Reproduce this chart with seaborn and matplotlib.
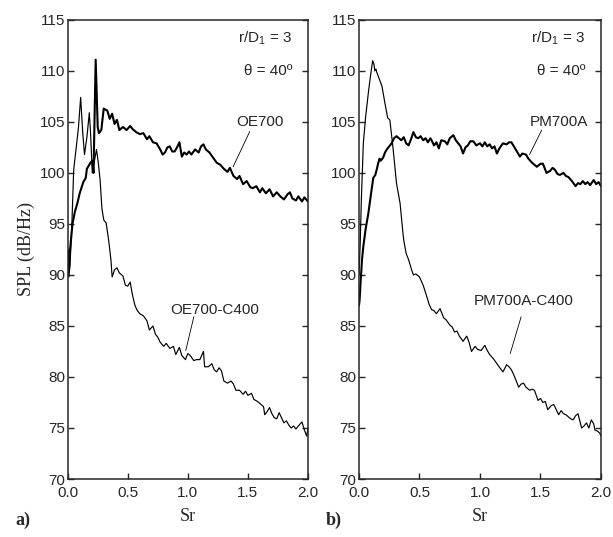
import numpy as np
import pandas as pd
import seaborn as sns
import matplotlib.pyplot as plt

# Panel a) OE700 and OE700-C400
sr_oe = [0.0, 0.01, 0.02, 0.04, 0.06, 0.08, 0.10, 0.13, 0.15, 0.16, 0.19, 0.205, 0.215, 0.233, 0.25,
         0.26, 0.28, 0.30, 0.33, 0.35, 0.37, 0.39, 0.41, 0.43, 0.46, 0.49, 0.52, 0.54, 0.57, 0.60,
         0.63, 0.66, 0.68, 0.71, 0.74, 0.77, 0.79, 0.81, 0.83, 0.85, 0.87, 0.89, 0.91, 0.93, 0.95,
         0.97, 0.99, 1.01, 1.03, 1.06, 1.09, 1.11, 1.13, 1.15, 1.18, 1.21, 1.24, 1.27, 1.30, 1.33,
         1.35, 1.38, 1.41, 1.43, 1.46, 1.49, 1.52, 1.54, 1.57, 1.60, 1.62, 1.65, 1.68, 1.71, 1.74,
         1.77, 1.80, 1.83, 1.85, 1.87, 1.90, 1.92, 1.95, 1.97, 2.0]
spl_oe = [92.5, 90.5, 92.5, 95.0, 96.2, 97.0, 98.0, 99.1, 99.5, 100.4, 101.0, 101.2, 100.0, 111.1, 104.5,
          103.9, 104.2, 106.3, 106.1, 105.3, 105.8, 104.8, 105.2, 104.2, 104.5, 104.2, 104.6, 104.3, 104.0, 103.8,
          103.9, 103.3, 103.6, 103.0, 102.9, 102.3, 101.8, 102.0, 102.5, 102.6, 102.1, 102.1, 102.5, 103.0, 101.6,
          102.0, 101.8, 102.1, 101.8, 102.3, 102.0, 102.6, 102.8, 102.3, 102.0, 101.5, 101.0, 100.8, 100.4, 100.1,
          100.5, 99.7, 99.4, 99.7, 98.9, 99.2, 98.6, 98.5, 98.7, 98.1, 98.5, 98.0, 98.4, 97.7, 98.1,
          97.7, 97.4, 97.9, 98.1, 97.5, 97.3, 97.7, 97.2, 97.6, 97.2]

sr_oe_c = [0.0, 0.01, 0.02, 0.035, 0.05, 0.075, 0.09, 0.108, 0.125, 0.14, 0.16, 0.18, 0.19, 0.205, 0.22,
           0.24, 0.255, 0.27, 0.285, 0.30, 0.32, 0.34, 0.36, 0.37, 0.39, 0.41, 0.43, 0.46, 0.48, 0.50,
           0.52, 0.54, 0.56, 0.58, 0.60, 0.63, 0.66, 0.68, 0.71, 0.73, 0.75, 0.77, 0.80, 0.82, 0.85,
           0.88, 0.90, 0.93, 0.95, 0.98, 1.00, 1.02, 1.05, 1.07, 1.10, 1.13, 1.14, 1.17, 1.20, 1.22,
           1.24, 1.26, 1.28, 1.30, 1.33, 1.36, 1.38, 1.40, 1.43, 1.46, 1.48, 1.50, 1.53, 1.55, 1.58,
           1.60, 1.63, 1.64, 1.66, 1.68, 1.70, 1.72, 1.74, 1.76, 1.78, 1.80, 1.82, 1.84, 1.86, 1.88,
           1.90, 1.92, 1.95, 1.97, 1.99, 2.0]
spl_oe_c = [90.5, 89.8, 91.0, 95.0, 100.3, 102.9, 104.5, 107.4, 104.0, 101.8, 103.5, 105.9, 104.0, 100.0, 101.0,
            102.3, 101.0, 99.3, 96.5, 95.4, 95.1, 93.5, 91.5, 89.8, 90.5, 90.7, 90.2, 89.9, 89.0, 88.9,
            89.3, 88.0, 87.0, 86.5, 86.2, 86.0, 85.5, 84.6, 85.0, 84.2, 83.9, 83.4, 83.0, 83.3, 82.8,
            83.0, 82.2, 82.9, 82.1, 81.7, 82.3, 82.1, 81.6, 81.7, 81.7, 82.5, 81.0, 81.0, 81.3, 80.7,
            80.5, 80.9, 80.6, 79.6, 79.4, 79.6, 79.3, 78.7, 78.7, 78.3, 78.6, 78.2, 78.4, 77.8, 77.6,
            77.4, 77.1, 76.3, 76.6, 77.0, 76.4, 76.0, 75.9, 76.5, 76.0, 75.5, 75.7, 75.3, 75.0, 75.2,
            74.9, 75.2, 75.6, 74.8, 74.2, 75.0]

# Panel b) PM700A and PM700A-C400
sr_pm = [0.0, 0.005, 0.012, 0.025, 0.036, 0.055, 0.077, 0.10, 0.118, 0.135, 0.146, 0.16, 0.17, 0.18, 0.20,
         0.215, 0.23, 0.25, 0.27, 0.29, 0.31, 0.33, 0.35, 0.37, 0.39, 0.41, 0.43, 0.45, 0.47, 0.49,
         0.51, 0.53, 0.55, 0.57, 0.59, 0.60, 0.62, 0.64, 0.66, 0.68, 0.71, 0.73, 0.75, 0.78, 0.80,
         0.82, 0.84, 0.86, 0.88, 0.90, 0.92, 0.945, 0.97, 1.00, 1.02, 1.04, 1.06, 1.08, 1.10, 1.12,
         1.14, 1.16, 1.19, 1.22, 1.24, 1.26, 1.28, 1.31, 1.33, 1.35, 1.38, 1.40, 1.43, 1.45, 1.47,
         1.50, 1.52, 1.55, 1.58, 1.60, 1.62, 1.64, 1.66, 1.69, 1.71, 1.73, 1.76, 1.79, 1.81, 1.83,
         1.85, 1.87, 1.89, 1.91, 1.94, 1.96, 1.98, 2.0]
spl_pm = [87.0, 87.5, 89.0, 91.5, 92.8, 94.5, 96.0, 98.0, 99.5, 99.8, 100.3, 101.0, 101.4, 101.2, 101.5,
          102.0, 102.3, 102.6, 102.9, 103.4, 103.6, 103.4, 103.2, 103.5, 102.9, 102.7, 103.3, 104.0, 103.5, 103.4,
          103.6, 103.2, 103.4, 103.0, 103.4, 103.2, 102.7, 103.0, 102.4, 103.2, 103.1, 102.8, 103.4, 103.7, 103.2,
          102.9, 102.6, 101.9, 102.5, 102.7, 103.1, 103.1, 102.7, 102.9, 102.6, 103.0, 102.6, 102.8, 102.4, 102.6,
          101.9, 102.4, 102.9, 102.8, 103.0, 103.0, 102.6, 102.0, 101.6, 101.9, 101.8, 101.4, 101.0, 100.8, 100.6,
          100.9, 100.9, 100.0, 100.2, 100.5, 100.3, 99.9, 99.8, 100.0, 99.7, 99.6, 99.2, 98.7, 99.0, 98.9,
          99.2, 98.9, 99.1, 98.8, 99.3, 98.9, 99.1, 98.7]

sr_pm_c = [0.0, 0.01, 0.02, 0.036, 0.055, 0.077, 0.095, 0.113, 0.125, 0.13, 0.14, 0.146, 0.165, 0.19, 0.215,
           0.237, 0.255, 0.28, 0.31, 0.34, 0.36, 0.37, 0.39, 0.41, 0.435, 0.45, 0.47, 0.50, 0.53, 0.56,
           0.58, 0.60, 0.62, 0.64, 0.67, 0.70, 0.72, 0.75, 0.77, 0.79, 0.81, 0.83, 0.86, 0.89, 0.91,
           0.93, 0.96, 0.98, 1.01, 1.04, 1.06, 1.08, 1.11, 1.14, 1.17, 1.19, 1.22, 1.24, 1.26, 1.28,
           1.30, 1.32, 1.34, 1.36, 1.38, 1.41, 1.43, 1.45, 1.48, 1.50, 1.52, 1.54, 1.56, 1.59, 1.61,
           1.63, 1.65, 1.67, 1.69, 1.71, 1.73, 1.75, 1.77, 1.79, 1.81, 1.84, 1.86, 1.88, 1.90, 1.92,
           1.94, 1.95, 1.97, 1.99, 2.0]
spl_pm_c = [90.0, 93.0, 97.5, 102.9, 105.5, 107.8, 109.5, 111.0, 110.6, 110.0, 110.2, 109.9, 109.3, 108.5, 106.8,
            105.4, 105.2, 102.6, 99.0, 97.0, 94.5, 93.4, 92.1, 91.5, 90.5, 90.0, 90.1, 89.8, 89.0, 87.9,
            87.1, 86.6, 86.5, 86.2, 86.7, 85.8, 85.6, 85.1, 84.9, 84.4, 84.5, 84.0, 83.5, 84.0, 83.4,
            82.5, 83.0, 82.7, 82.6, 83.1, 82.6, 82.2, 81.8, 81.3, 80.8, 80.5, 81.2, 81.0, 80.7, 80.2,
            79.6, 79.0, 79.3, 79.4, 79.0, 78.7, 78.8, 78.7, 77.7, 77.9, 77.5, 77.6, 76.8, 77.2, 77.3,
            76.8, 76.3, 76.7, 76.4, 76.3, 76.1, 75.9, 75.8, 76.2, 76.4, 75.0, 75.2, 75.5, 75.0, 75.8,
            75.4, 74.8, 74.7, 74.5, 74.2]

yticks = [70, 75, 80, 85, 90, 95, 100, 105, 110, 115]
xticks = [0.0, 0.5, 1.0, 1.5, 2.0]

sns.set_style("ticks")
plt.rcParams['font.family'] = ['Liberation Sans', 'DejaVu Sans']
plt.rcParams['xtick.direction'] = 'in'
plt.rcParams['ytick.direction'] = 'in'

fig = plt.figure(figsize=(6.13, 5.37), dpi=100)
ax_a = fig.add_axes([0.1104, 0.108, 0.392, 0.855])
ax_b = fig.add_axes([0.5856, 0.108, 0.3948, 0.855])

panels = [
    (ax_a, sr_oe, spl_oe, sr_oe_c, spl_oe_c),
    (ax_b, sr_pm, spl_pm, sr_pm_c, spl_pm_c),
]

for ax, x1, y1, x2, y2 in panels:
    df1 = pd.DataFrame({"Sr": x1, "SPL": y1})
    df2 = pd.DataFrame({"Sr": x2, "SPL": y2})
    sns.lineplot(data=df1, x="Sr", y="SPL", ax=ax, color="black", lw=1.5,
                 sort=False, estimator=None)
    sns.lineplot(data=df2, x="Sr", y="SPL", ax=ax, color="black", lw=0.85,
                 sort=False, estimator=None)
    ax.set_xlim(0, 2)
    ax.set_ylim(70, 115)
    ax.set_xticks(xticks)
    ax.set_xticklabels([f"{v:.1f}" for v in xticks])
    ax.set_yticks(yticks)
    ax.tick_params(axis="both", labelsize=11, length=4, width=1, right=True)
    ax.tick_params(axis="x", pad=5)
    ax.tick_params(axis="y", pad=2)
    for sp in ax.spines.values():
        sp.set_linewidth(1.1)
        sp.set_visible(True)
    ax.set_xlabel("Sr", family="Liberation Serif", fontsize=13, labelpad=6)
    ax.set_ylabel("")
    ax.text(1.87, 113.2, r"r/D$_{\mathregular{1}}$ = 3", ha="right", va="center", fontsize=11)
    ax.text(1.87, 110.0, "θ = 40º", ha="right", va="center", fontsize=11)

ax_a.set_ylabel("SPL (dB/Hz)", family="Liberation Serif", fontsize=13, labelpad=3)

# curve labels with leader lines
ax_a.text(1.6, 105.0, "OE700", ha="center", va="center", fontsize=11)
ax_a.plot([1.515, 1.377], [104.05, 100.6], color="black", lw=0.6)
ax_a.text(1.22, 86.6, "OE700-C400", ha="center", va="center", fontsize=11)
ax_a.plot([1.05, 0.983], [85.9, 82.6], color="black", lw=0.6)

ax_b.text(1.65, 105.0, "PM700A", ha="center", va="center", fontsize=11)
ax_b.plot([1.51, 1.41], [104.2, 101.8], color="black", lw=0.6)
ax_b.text(1.364, 87.4, "PM700A-C400", ha="center", va="center", fontsize=11)
ax_b.plot([1.34, 1.25], [85.9, 82.3], color="black", lw=0.6)

fig.text(15 / 613, 1 - 520 / 537, "a)", family="Liberation Serif", fontweight="bold",
         fontsize=13, ha="left", va="center")
fig.text(326 / 613, 1 - 520 / 537, "b)", family="Liberation Serif", fontweight="bold",
         fontsize=13, ha="left", va="center")

fig.savefig("out.png", dpi=100)
